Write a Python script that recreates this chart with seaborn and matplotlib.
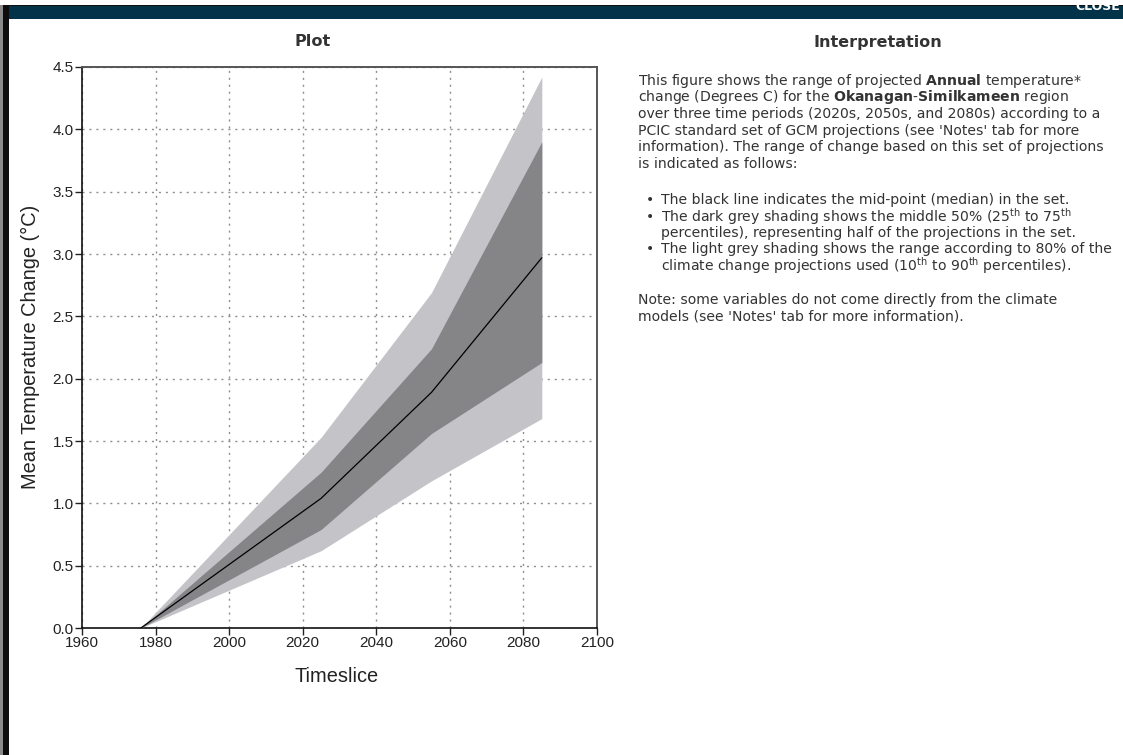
import matplotlib
matplotlib.use("Agg")
import matplotlib.pyplot as plt
from matplotlib.patches import Rectangle
import pandas as pd
import seaborn as sns

# Projected annual temperature change, Okanagan-Similkameen (deg C)
years = [1976, 2025, 2055, 2085]
p10 = [0.0, 0.62, 1.18, 1.68]
p25 = [0.0, 0.79, 1.56, 2.13]
p50 = [0.0, 1.04, 1.89, 2.97]
p75 = [0.0, 1.25, 2.24, 3.90]
p90 = [0.0, 1.53, 2.69, 4.42]

x_ticks = [1960, 1980, 2000, 2020, 2040, 2060, 2080, 2100]
y_ticks = [0.0, 0.5, 1.0, 1.5, 2.0, 2.5, 3.0, 3.5, 4.0, 4.5]

W, H = 1123, 755

sns.set_theme(style="white")
plt.rcParams["font.family"] = ["DejaVu Sans"]
plt.rcParams["mathtext.fontset"] = "custom"
plt.rcParams["mathtext.rm"] = "DejaVu Sans"
plt.rcParams["mathtext.bf"] = "DejaVu Sans:bold"
plt.rcParams["mathtext.default"] = "regular"

fig = plt.figure(figsize=(W / 100, H / 100), dpi=100)
fig.patch.set_facecolor("white")


def fx(px):
    return px / W


def fy(py):
    return 1 - py / H


# page chrome: header bar and left border
bar = Rectangle((fx(3), fy(19)), fx(W - 3), 14 / H, transform=fig.transFigure,
                facecolor="#023349", edgecolor="none", zorder=0)
fig.add_artist(bar)
fig.add_artist(Rectangle((fx(3), fy(6)), fx(W - 3), 1.5 / H, transform=fig.transFigure,
                         facecolor="#111111", edgecolor="none", zorder=1))
fig.add_artist(Rectangle((fx(0), 0), fx(3), fy(5), transform=fig.transFigure,
                         facecolor="#8a8a8a", edgecolor="none", zorder=1))
fig.add_artist(Rectangle((fx(3), 0), fx(6), fy(5), transform=fig.transFigure,
                         facecolor="#0d0d0d", edgecolor="none", zorder=1))
close_txt = fig.text(fx(1098), fy(6), "CLOSE", color="white", fontsize=9.0,
                     fontweight="bold", ha="center", va="center", zorder=2)
close_txt.set_clip_path(bar)

# section headings
fig.text(fx(313), fy(42), "Plot", fontsize=11.6, fontweight="bold",
         color="#333333", ha="center", va="center")
fig.text(fx(878), fy(42), "Interpretation", fontsize=11.5, fontweight="bold",
         color="#333333", ha="center", va="center")

# chart
ax = fig.add_axes([fx(82), fy(628), fx(597) - fx(82), fy(67) - fy(628)])
light = "#c4c3c8"
dark = "#858487"
ax.fill_between(years, p10, p90, color=light, linewidth=0, zorder=2)
ax.fill_between(years, p25, p75, color=dark, linewidth=0, zorder=3)
df = pd.DataFrame({"Timeslice": years, "Median": p50})
sns.lineplot(data=df, x="Timeslice", y="Median", color="black", linewidth=0.9,
             ax=ax, zorder=4)

ax.set_xlim(1960, 2100)
ax.set_ylim(0, 4.5)
ax.set_xticks(x_ticks)
ax.set_yticks(y_ticks)
ax.set_xticklabels([str(v) for v in x_ticks])
ax.set_yticklabels([f"{v:.1f}" for v in y_ticks])
ax.grid(True, color="#8f8f8f", linestyle=(0, (1.5, 3.5)), linewidth=1.0, zorder=1)
ax.set_axisbelow(True)

for lab in ax.get_xticklabels() + ax.get_yticklabels():
    lab.set_fontfamily(["Liberation Sans"])
    lab.set_fontsize(11)
    lab.set_color("#222222")
ax.tick_params(axis="both", direction="out", length=5, width=1, color="#222222",
               pad=1, bottom=True, left=True, top=False, right=False)

for side in ["left", "bottom"]:
    ax.spines[side].set_color("#111111")
    ax.spines[side].set_linewidth(1.2)
for side in ["top", "right"]:
    ax.spines[side].set_color("#555555")
    ax.spines[side].set_linewidth(1.4)

ax.set_xlabel("")
ax.set_ylabel("")
fig.text(fx(337), fy(677), "Timeslice", fontsize=14.4, family=["Liberation Sans"],
         color="#222222", ha="center", va="center")
fig.text(fx(30), fy(347), "Mean Temperature Change (°C)", fontsize=14.4,
         family=["Liberation Sans"], color="#222222", ha="center", va="center",
         rotation=90)

# interpretation text
body = dict(fontsize=10.1, color="#333333", ha="left", va="center")
para1 = [
    r"This figure shows the range of projected $\mathbf{Annual}$ temperature*",
    r"change (Degrees C) for the $\mathbf{Okanagan}$-$\mathbf{Similkameen}$ region",
    "over three time periods (2020s, 2050s, and 2080s) according to a",
    "PCIC standard set of GCM projections (see 'Notes' tab for more",
    "information). The range of change based on this set of projections",
    "is indicated as follows:",
]
for i, line in enumerate(para1):
    fig.text(fx(638), fy(81 + i * 16.5), line, **body)

bullets = [
    (200.0, True, "The black line indicates the mid-point (median) in the set."),
    (216.5, True, r"The dark grey shading shows the middle 50% (25$^{\mathrm{th}}$ to 75$^{\mathrm{th}}$"),
    (233.0, False, "percentiles), representing half of the projections in the set."),
    (249.5, True, "The light grey shading shows the range according to 80% of the"),
    (266.0, False, r"climate change projections used (10$^{\mathrm{th}}$ to 90$^{\mathrm{th}}$ percentiles)."),
]
for y, dot, line in bullets:
    if dot:
        fig.text(fx(646), fy(y), "\u2022", **body)
    fig.text(fx(661), fy(y), line, **body)

note = [
    "Note: some variables do not come directly from the climate",
    "models (see 'Notes' tab for more information).",
]
for i, line in enumerate(note):
    fig.text(fx(638), fy(300 + i * 16.5), line, **body)

fig.savefig("out.png", dpi=100, facecolor="white")
